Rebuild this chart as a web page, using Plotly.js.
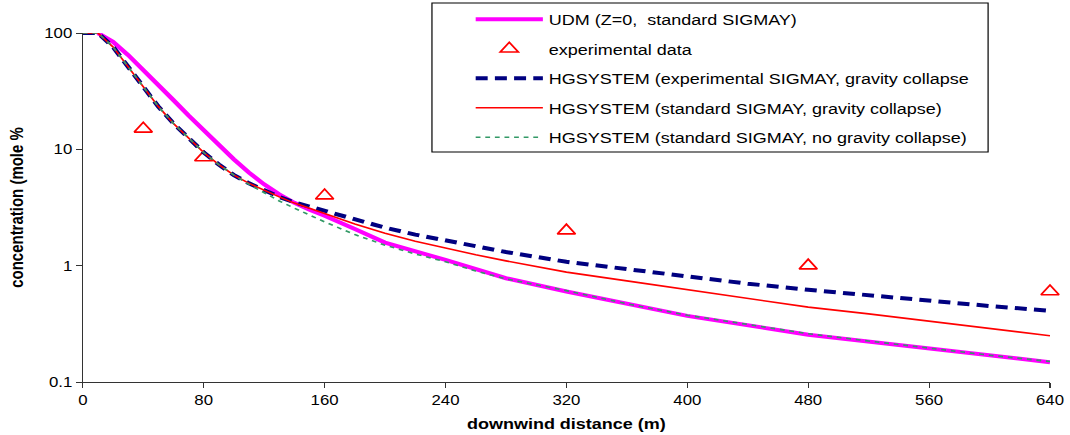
<!DOCTYPE html>
<html><head><meta charset="utf-8">
<script src="https://cdn.plot.ly/plotly-3.0.1.min.js"></script>
<style>
html,body{margin:0;padding:0;background:#fff;overflow:hidden;}
#wrap{width:1070px;height:435px;overflow:hidden;position:relative;}
#chart{width:892px;height:435px;transform:scaleX(1.2);transform-origin:0 0;}
</style></head>
<body><div id="wrap"><div id="chart"></div></div>
<script>
// ---- data (downwind distance in m, concentration in mole %) ----
const udmX = [10,20,30,40,50,60,70,80,90,100,110,120,130,140,150,160,180,200,240,280,320,400,480,560,640];
const udmY = [100,84,64.6,48.4,35.9,26.5,19.5,14.5,10.8,8.2,6.3,5.0,4.1,3.47,3.02,2.69,2.07,1.58,1.12,0.78,0.60,0.37,0.255,0.195,0.148];

const expX = [40,80,160,320,480,640];
const expY = [15,8.5,4.0,2.0,1.0,0.6];

const hgX = [0,10,20,30,40,50,60,70,80,90,100,110,120,130,140,150,160,180,200,220,240,260,280,320,360,400,440,480,520,560,600,640];
const hgExpY = [100,100,76,51,34,23.3,16.7,12.4,9.4,7.4,6.0,5.1,4.45,3.9,3.5,3.22,2.98,2.5,2.12,1.85,1.65,1.45,1.31,1.08,0.93,0.80,0.70,0.62,0.555,0.50,0.45,0.41];
const hgStdY = [100,100,76,51,34,23.3,16.7,12.4,9.4,7.4,6.0,5.1,4.45,3.9,3.45,3.1,2.78,2.28,1.90,1.62,1.42,1.24,1.10,0.88,0.74,0.62,0.52,0.44,0.385,0.335,0.29,0.25];
const hgNoGY = [100,100,76,51,34,23.3,16.7,12.4,9.4,7.4,6.0,5.0,4.25,3.6,3.12,2.72,2.38,1.85,1.50,1.26,1.08,0.90,0.77,0.61,0.47,0.375,0.31,0.26,0.225,0.195,0.17,0.15];

const xTicks = [0,80,160,240,320,400,480,560,640];
const yTicks = [0.1,1,10,100];
const yTickText = ['0.1','1','10','100'];

const names = [
  'UDM (Z=0,  standard SIGMAY)',
  'experimental data',
  'HGSYSTEM (experimental SIGMAY, gravity collapse',
  'HGSYSTEM (standard SIGMAY, gravity collapse)',
  'HGSYSTEM (standard SIGMAY, no gravity collapse)'
];

const FONT = 'Liberation Sans, Arial, Helvetica, sans-serif';

const traces = [
  {x: udmX, y: udmY, name: names[0], legendgroup:'a', mode:'lines',
   line:{color:'#FF00FF', width:4}},
  {x: expX, y: expY, name: names[1], legendgroup:'b', mode:'markers', cliponaxis:false,
   marker:{symbol:'triangle-up-open', size:13, color:'#FF0000', line:{color:'#FF0000', width:1.6}}},
  {x: hgX, y: hgExpY, name: names[2], legendgroup:'c', mode:'lines',
   line:{color:'#000080', width:4, dash:'10px,6px'}},
  {x: hgX, y: hgStdY, name: names[3], legendgroup:'d', mode:'lines',
   line:{color:'#FF0000', width:1.6}},
  {x: hgX, y: hgNoGY, name: names[4], legendgroup:'e', mode:'lines',
   line:{color:'#339966', width:1.6, dash:'4px,4px'}}
];

const layout = {
  width: 892, height: 435,
  margin: {l:69, r:17, t:33, b:53, autoexpand:false},
  paper_bgcolor:'#fff', plot_bgcolor:'#fff',
  font: {family: FONT, color:'#000', size:14},
  showlegend: true,
  legend: {
    x: 0.400, y: 1.086, xanchor:'left', yanchor:'top',
    bgcolor:'rgba(0,0,0,0)', borderwidth:0,
    font:{family: FONT, size:15, color:'#000'},
    itemwidth: 56, tracegroupgap: 7, traceorder:'grouped'
  },
  shapes: [{
    type:'rect', xref:'paper', yref:'paper', layer:'above',
    x0:0.361, x1:0.936, y0:0.659, y1:1.086,
    line:{color:'#000', width:1}, fillcolor:'#fff'
  }],
  xaxis: {
    range:[0,640], tickmode:'array', tickvals:xTicks,
    showgrid:false, zeroline:false, showline:true, linecolor:'#333', linewidth:1,
    ticks:'outside', ticklen:5, tickcolor:'#333', tickwidth:1,
    tickfont:{family: FONT, size:14, color:'#000'},
    title:{text:'downwind distance (m)', font:{family: FONT, size:15, color:'#000', weight:'bold'}, standoff:11}
  },
  yaxis: {
    type:'log', range:[-1,2], tickmode:'array', tickvals:yTicks, ticktext:yTickText,
    showgrid:false, zeroline:false, showline:true, linecolor:'#333', linewidth:1,
    ticks:'outside', ticklen:5, tickcolor:'#333', tickwidth:1,
    tickfont:{family: FONT, size:14, color:'#000'},
    title:{text:'concentration (mole %', font:{family: FONT, size:15, color:'#000', weight:'bold'}, standoff:13}
  }
};

Plotly.newPlot('chart', traces, layout, {displayModeBar:false, staticPlot:true});
</script>
</body></html>
